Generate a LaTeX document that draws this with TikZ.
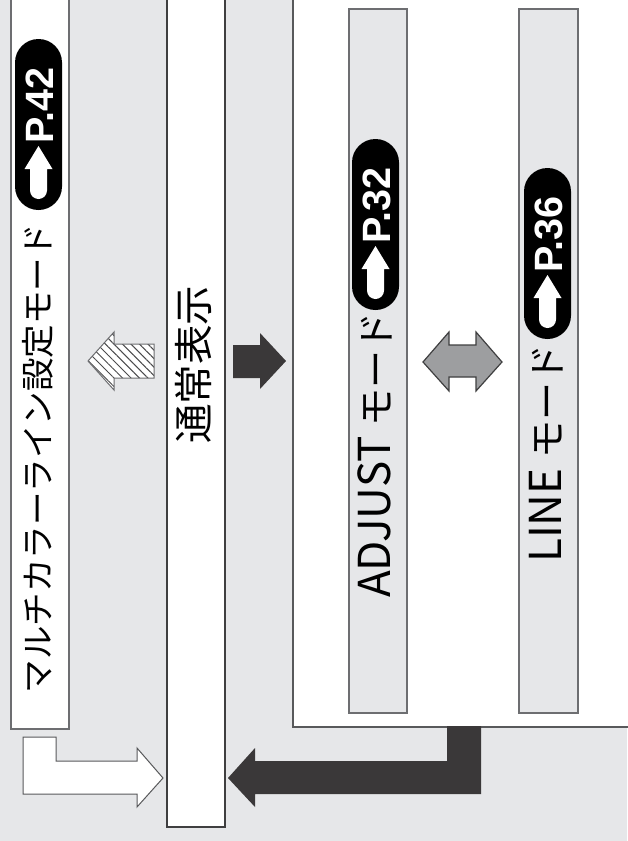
\documentclass[tikz,border=0pt]{standalone}
\usepackage{fontspec}
\setmainfont{Noto Sans CJK JP}
\newfontfamily\jpfont{Noto Sans CJK JP}
\newfontfamily\badgefont{Liberation Sans}
\usetikzlibrary{patterns.meta}
\definecolor{bg}{HTML}{E6E7E9}
\definecolor{boxline}{HTML}{6D6E71}
\definecolor{darkline}{HTML}{3F3F40}
\definecolor{panelline}{HTML}{58595B}
\definecolor{darkarrow}{HTML}{3A3839}
\definecolor{grayarrow}{HTML}{9D9EA0}
\definecolor{hatchline}{HTML}{4A4A4C}
\tikzset{
  thinbox/.style={draw=boxline, line width=1.2pt},
  centerbox/.style={draw=darkline, line width=2pt, fill=white},
  panelbox/.style={draw=panelline, line width=2pt, fill=white},
  jptext/.style={rotate=90, inner sep=0pt, text=black, font=\jpfont},
  badgetext/.style={rotate=90, inner sep=0pt, text=white, font=\badgefont\bfseries\fontsize{39.5}{42}\selectfont},
  darkblock/.style={fill=darkarrow},
  whiteblock/.style={fill=white, draw=panelline, line width=1pt},
  grayblock/.style={fill=grayarrow, draw=darkline, line width=1.2pt},
}
\newcommand{\pagebadge}[4]{%
  \begin{scope}[shift={(#2,#3)}]
    \fill[black, rounded corners=23.5pt] (-23.5,0) rectangle (23.5,171);
    \fill[white] (0,107) -- (14,130) -- (8.5,130) -- (8.5,151.5)
      arc[start angle=0, end angle=180, radius=8.5] -- (-8.5,130) -- (-14,130) -- cycle;
    \node[badgetext, anchor=base west] (#1) at (14.5,105) {#4};
  \end{scope}}
\begin{document}
\begin{tikzpicture}[x=1pt,y=-1pt]
\useasboundingbox (0,0) rectangle (627,841);
\fill[bg] (0,0) rectangle (627,841);
% right panel
\draw[panelbox] (293,-5) rectangle (640,727);
% mode boxes
\draw[thinbox, fill=white] (11,-5) rectangle (69,729);
\draw[centerbox] (167,-5) rectangle (225,827);
\draw[thinbox, fill=bg] (349,9) rectangle (407,713);
\draw[thinbox, fill=bg] (519,9) rectangle (578,713);
% texts
\node[jptext, font=\jpfont\fontsize{33.5}{36}\selectfont] (multi) at (37.5,458.5) {マルチカラーライン設定モード};
\node[jptext, font=\jpfont\fontsize{39.5}{42}\selectfont] (normal) at (193.5,364.5) {通常表示};
\node[jptext, anchor=base west, font=\jpfont\fontsize{44}{46}\selectfont] (adjust) at (390,598) {ADJUST {\fontsize{38}{40}\selectfont モード}};
\node[jptext, anchor=base west, font=\jpfont\fontsize{44}{46}\selectfont] (line) at (561.5,563) {LINE {\fontsize{38}{40}\selectfont モード}};
% badges
\pagebadge{b42}{38.5}{39}{P.42}
\pagebadge{b32}{375.5}{139}{P.32}
\pagebadge{b36}{547.5}{168}{P.36}
% hatched arrow (to multi)
\path[fill=white] (154,344) -- (154,378) -- (114,378) -- (114,390) -- (88,361) -- (114,332) -- (114,344) -- cycle;
\path[pattern={Lines[angle=-45,distance=6pt,line width=1pt]}, pattern color=hatchline] (154,344) -- (154,378) -- (114,378) -- (114,390) -- (88,361) -- (114,332) -- (114,344) -- cycle;
\draw[boxline, line width=1pt] (154,344) -- (154,378) -- (114,378) -- (114,390) -- (88,361) -- (114,332) -- (114,344) -- cycle;
% dark arrow (normal -> adjust)
\fill[darkblock] (233,345) -- (260,345) -- (260,333) -- (286,361) -- (260,389) -- (260,378) -- (233,378) -- cycle;
% gray double arrow
\draw[grayblock] (423,362) -- (449,332) -- (449,345) -- (476,345) -- (476,332) -- (502,362) -- (476,391) -- (476,377) -- (449,377) -- (449,391) -- cycle;
% white L arrow (multi -> normal)
\draw[whiteblock] (23,737) -- (56,737) -- (56,761) -- (137,761) -- (137,748) -- (163,778) -- (137,807) -- (137,794) -- (23,794) -- cycle;
% dark L arrow (panel -> normal)
\fill[darkblock] (447,726) -- (481,726) -- (481,794) -- (255,794) -- (255,807) -- (228,778) -- (255,748) -- (255,761) -- (447,761) -- cycle;
\end{tikzpicture}
\end{document}
